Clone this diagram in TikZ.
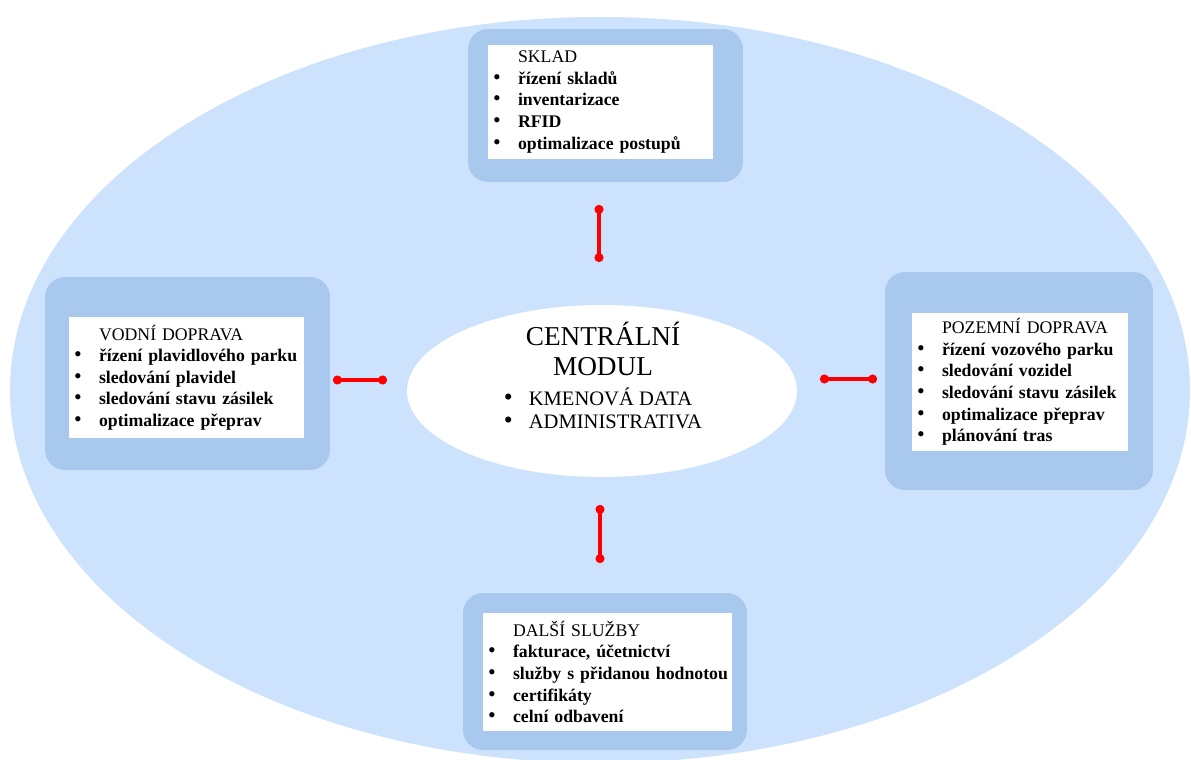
\documentclass[tikz,border=0pt]{standalone}
\usepackage{fontspec}
\setmainfont{Liberation Serif}
\usetikzlibrary{arrows.meta,shapes.geometric}

\definecolor{sea}{RGB}{205,226,252}
\definecolor{panelblue}{RGB}{168,200,238}
\definecolor{barred}{RGB}{250,0,0}

% one line of a box: bullet, then bold text (kept on one line)
\newcommand\itm[1]{\mbox{\makebox[0.5cm][l]{\fontsize{12.5}{12}\selectfont\textbullet}\textbf{#1}}}
% box heading, indented like the items
\newcommand\hdr[1]{\hspace*{0.5cm}#1}
% bigger bullet for the centre
\newcommand\bigdot{\smash{\fontsize{14.5}{12}\selectfont\textbullet}}

\begin{document}
\begin{tikzpicture}[x=0.02cm, y=-0.02cm,
  panel/.style={rectangle, rounded corners=0.4cm, fill=panelblue},
  card/.style={rectangle, fill=white, align=left, inner xsep=0.1cm, font=\fontsize{10.1}{12.3}\selectfont},
  hub/.style={ellipse, fill=white, minimum width=7.8cm, minimum height=3.44cm},
  redbar/.style={barred, line width=2.3pt, {Circle[length=5pt]}-{Circle[length=5pt]}}]

\useasboundingbox (0,0) rectangle (1191,760);

% the big background oval
\fill[sea] (600,390) ellipse [x radius=590, y radius=373];

% Blue frames behind the four boxes
\foreach \n/\x/\y/\w/\h in {sklad/605.5/105.5/5.5/3.06, vodni/187.5/373.5/5.7/3.86,
                            pozemni/1019/381/5.36/4.36, dalsi/605/671.5/5.68/3.14} {
    \node[panel, minimum width=\w cm, minimum height=\h cm] (\n-panel) at (\x,\y) {};
}

% and the white boxes with their lists
\node[card, text width=4.3cm, minimum height=2.2cm] (sklad) at (600.5,102)
  {\hdr{SKLAD}\\ \itm{řízení skladů}\\ \itm{inventarizace}\\ \itm{RFID}\\ \itm{optimalizace postupů}};

\node[card, text width=4.5cm, minimum height=2.42cm] (vodni) at (186.5,377.5)
  {\hdr{VODNÍ DOPRAVA}\\ \itm{řízení plavidlového parku}\\ \itm{sledování plavidel}\\ \itm{sledování stavu zásilek}\\ \itm{optimalizace přeprav}};

\node[card, text width=4.12cm, minimum height=2.6cm] (pozemni) at (1020,382)
  {\hdr{POZEMNÍ DOPRAVA}\\ \itm{řízení vozového parku}\\ \itm{sledování vozidel}\\ \itm{sledování stavu zásilek}\\ \itm{optimalizace přeprav}\\ \itm{plánování tras}};

\node[card, text width=4.78cm, minimum height=2.36cm] (dalsi) at (607.5,672)
  {\hdr{DALŠÍ SLUŽBY}\\ \itm{fakturace, účetnictví}\\ \itm{služby s přidanou hodnotou}\\ \itm{certifikáty}\\ \itm{celní odbavení}};

% central module
\node[hub] (hub) at (602,391) {};
\node[align=center, font=\fontsize{15.5}{17}\selectfont] (hubtext) at (603,379)
  {CENTRÁLNÍ\\ MODUL\\
   {\fontsize{11.7}{13.4}\selectfont\begin{tabular}[t]{@{}l@{\hspace{0.32cm}}l@{}}
      \bigdot & KMENOVÁ DATA\\ \bigdot & ADMINISTRATIVA
   \end{tabular}}};

% red links between the boxes and the centre
\coordinate (n1) at (599,205);  \coordinate (n2) at (599,262);
\coordinate (w1) at (333,380);  \coordinate (w2) at (387,380);
\coordinate (e1) at (820,379);  \coordinate (e2) at (877,379);
\coordinate (s1) at (600,505);  \coordinate (s2) at (600,563);
\foreach \a/\b in {n1/n2, w1/w2, e1/e2, s1/s2} {
    \draw[redbar] (\a) -- (\b);
}
\end{tikzpicture}
\end{document}
